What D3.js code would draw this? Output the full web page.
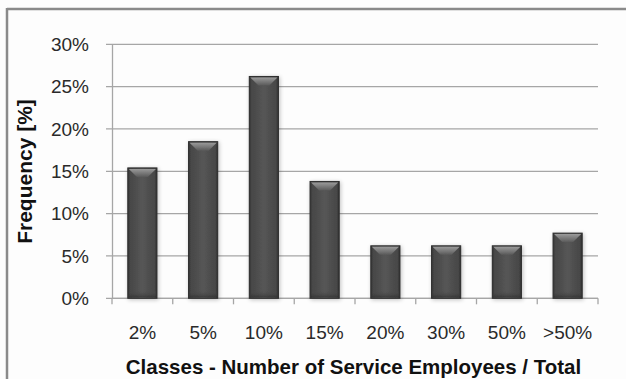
<!DOCTYPE html>
<html>
<head>
<meta charset="utf-8">
<script src="https://cdn.jsdelivr.net/npm/d3@7"></script>
<style>
html,body{margin:0;padding:0;background:#fff;}
svg{display:block;}
</style>
</head>
<body>
<svg id="chart" width="626" height="379"></svg>
<script>
const categories = ["2%", "5%", "10%", "15%", "20%", "30%", "50%", ">50%"];
const frequency = [0.154, 0.185, 0.262, 0.138, 0.062, 0.062, 0.062, 0.077];
const yTicks = [0, 0.05, 0.10, 0.15, 0.20, 0.25, 0.30];
const xTitle = "Classes - Number of Service Employees / Total";
const yTitle = "Frequency [%]";

const svg = d3.select("#chart");
const W = 626, H = 379;
const m = {left: 112, right: 28, top: 44.3, bottom: 80.7};
const FONT = "Arial, 'Liberation Sans', sans-serif";

// background & partial frame
svg.append("rect").attr("x", 0).attr("y", 0).attr("width", W).attr("height", H).attr("fill", "#fdfdfd");
svg.append("line").attr("x1", 7).attr("x2", W).attr("y1", 9).attr("y2", 9).attr("stroke", "#8a8a8a").attr("stroke-width", 2.5);
svg.append("line").attr("x1", 7).attr("x2", 7).attr("y1", 8).attr("y2", H).attr("stroke", "#8a8a8a").attr("stroke-width", 2.5);

const x = d3.scaleBand().domain(categories).range([m.left, W - m.right]).paddingInner(0.52).paddingOuter(0.26);
const y = d3.scaleLinear().domain([0, 0.30]).range([H - m.bottom, m.top]);

const defs = svg.append("defs");
const g1 = defs.append("linearGradient").attr("id", "barH").attr("x1", 0).attr("x2", 1).attr("y1", 0).attr("y2", 0);
[[0, "#333"], [0.08, "#474747"], [0.5, "#565656"], [0.92, "#474747"], [1, "#2f2f2f"]].forEach(([o, c]) => g1.append("stop").attr("offset", o).attr("stop-color", c));
const g2 = defs.append("linearGradient").attr("id", "cap").attr("x1", 0).attr("x2", 0).attr("y1", 0).attr("y2", 1);
[[0, "#9a9a9a"], [1, "#5a5a5a"]].forEach(([o, c]) => g2.append("stop").attr("offset", o).attr("stop-color", c));
const g3 = defs.append("linearGradient").attr("id", "bot").attr("x1", 0).attr("x2", 0).attr("y1", 0).attr("y2", 1);
[[0, "#555", 0], [1, "#2a2a2a", 1]].forEach(([o, c, a]) => g3.append("stop").attr("offset", o).attr("stop-color", c).attr("stop-opacity", a));
const sh = defs.append("filter").attr("id", "shadow").attr("x", "-30%").attr("y", "-10%").attr("width", "160%").attr("height", "120%");
sh.append("feGaussianBlur").attr("in", "SourceAlpha").attr("stdDeviation", 2).attr("result", "b");
sh.append("feOffset").attr("in", "b").attr("dx", 1).attr("dy", 1).attr("result", "o");
sh.append("feComponentTransfer").attr("in", "o").attr("result", "o2").append("feFuncA").attr("type", "linear").attr("slope", 0.25);
const mg = sh.append("feMerge");
mg.append("feMergeNode").attr("in", "o2");
mg.append("feMergeNode").attr("in", "SourceGraphic");

// gridlines with left tick stubs
const grid = svg.append("g");
grid.selectAll("line").data(yTicks).join("line")
  .attr("x1", m.left - 6).attr("x2", W - m.right)
  .attr("y1", d => y(d)).attr("y2", d => y(d))
  .attr("stroke", "#a6a6a6").attr("stroke-width", 1.3);

// y axis
const yAxis = d3.axisLeft(y).tickValues(yTicks).tickFormat(d3.format(".0%")).tickSize(0).tickPadding(23);
const ya = svg.append("g").attr("transform", `translate(${m.left},0)`).call(yAxis);
ya.select(".domain").attr("stroke", "#a6a6a6").attr("stroke-width", 1.3);
ya.selectAll("text").attr("font-family", FONT).attr("font-size", 19).attr("fill", "#2a2a2a");

// x axis: ticks at category boundaries
const xa = svg.append("g").attr("transform", `translate(0,${y(0)})`);
xa.append("line").attr("x1", m.left).attr("x2", W - m.right).attr("stroke", "#a6a6a6").attr("stroke-width", 1.3);
const bounds = d3.range(categories.length + 1).map(i => m.left + i * (W - m.right - m.left) / categories.length);
xa.selectAll(".tk").data(bounds).join("line").attr("class", "tk")
  .attr("x1", d => d).attr("x2", d => d).attr("y1", 0).attr("y2", 6)
  .attr("stroke", "#a6a6a6").attr("stroke-width", 1.3);
const xAxis = d3.axisBottom(x).tickSize(0).tickPadding(27);
const xl = svg.append("g").attr("transform", `translate(0,${y(0)})`).call(xAxis);
xl.select(".domain").remove();
xl.selectAll("text").attr("font-family", FONT).attr("font-size", 19).attr("fill", "#2a2a2a");

// bars
const bars = svg.append("g").selectAll("g").data(categories.map((c, i) => ({c, v: frequency[i]}))).join("g").attr("filter", "url(#shadow)");
bars.append("rect")
  .attr("x", d => x(d.c)).attr("y", d => y(d.v))
  .attr("width", x.bandwidth()).attr("height", d => y(0) - y(d.v))
  .attr("fill", "url(#barH)").attr("stroke", "#2e2e2e").attr("stroke-width", 1);
bars.append("path")
  .attr("d", d => {
    const x0 = x(d.c) + 1, x1 = x(d.c) + x.bandwidth() - 1, t = y(d.v) + 1, bw = x1 - x0;
    return `M${x0},${t}L${x1},${t}L${x1 - bw * 0.3},${t + 8}L${x0 + bw * 0.3},${t + 8}Z`;
  })
  .attr("fill", "url(#cap)");
bars.append("rect")
  .attr("x", d => x(d.c) + 1).attr("y", y(0) - 8)
  .attr("width", x.bandwidth() - 2).attr("height", 7)
  .attr("fill", "url(#bot)").attr("opacity", 0.6);

// axis titles
svg.append("text").attr("x", 353.5).attr("y", 373.5).attr("text-anchor", "middle")
  .attr("font-family", FONT).attr("font-weight", "bold").attr("font-size", 20.5).attr("fill", "#111")
  .text(xTitle);
svg.append("text").attr("transform", "translate(32,171.5) rotate(-90)").attr("text-anchor", "middle")
  .attr("font-family", FONT).attr("font-weight", "bold").attr("font-size", 21).attr("fill", "#111")
  .text(yTitle);
</script>
</body>
</html>
